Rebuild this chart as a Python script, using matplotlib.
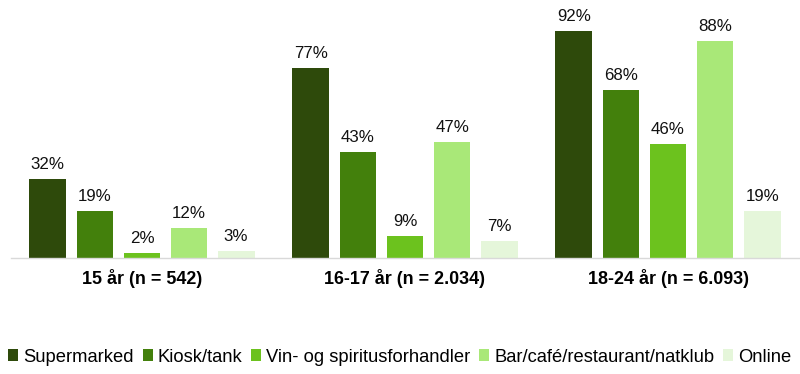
import matplotlib
matplotlib.use("Agg")
import matplotlib.pyplot as plt
import numpy as np
from matplotlib.patches import Patch

plt.rcParams['font.family'] = ['Liberation Sans', 'DejaVu Sans']

groups = ["15 år (n = 542)", "16-17 år (n = 2.034)", "18-24 år (n = 6.093)"]
series = ["Supermarked", "Kiosk/tank", "Vin- og spiritusforhandler",
          "Bar/café/restaurant/natklub", "Online"]
supermarked = [32, 77, 92]
kiosk = [19, 43, 68]
vin = [2, 9, 46]
bar = [12, 47, 88]
online = [3, 7, 19]
values = [supermarked, kiosk, vin, bar, online]
colors = ["#2e4a0b", "#43800c", "#6cc21e", "#a9e878", "#e5f6da"]

fig = plt.figure(figsize=(8, 3.74), dpi=100)
ax = fig.add_axes([10.5/800, 1-258/374, 789/800, 247/374])
x = np.arange(len(groups))
w = 0.14
step = 0.179
for i, (vals, c) in enumerate(zip(values, colors)):
    pos = x + (i - 2) * step
    ax.bar(pos, vals, width=w, color=c, edgecolor='none', zorder=2)
    for p, v in zip(pos, vals):
        ax.annotate(f"{v}%", (p, v), xytext=(0, 5), textcoords='offset points',
                    ha='center', va='bottom', fontsize=12.2, color='#111111')

ax.set_xlim(-0.5, 2.5)
ax.set_ylim(0, 100)
ax.set_yticks([])
ax.set_xticks(x)
ax.set_xticklabels(groups, fontsize=12.9, fontweight='bold')
ax.tick_params(axis='x', length=0, pad=8)
for s in ['top', 'right', 'left']:
    ax.spines[s].set_visible(False)
ax.spines['bottom'].set_color('#d9d9d9')
ax.spines['bottom'].set_linewidth(1)

handles = [Patch(facecolor=c, edgecolor='none') for c in colors]
fig.legend(handles, series, loc='center', bbox_to_anchor=(0.5, 1-357/374),
           ncol=5, frameon=False, fontsize=13.2, handlelength=0.55, handleheight=0.55,
           handletextpad=0.27, columnspacing=0.48, borderpad=0.2)

fig.savefig("out.png", dpi=100)
